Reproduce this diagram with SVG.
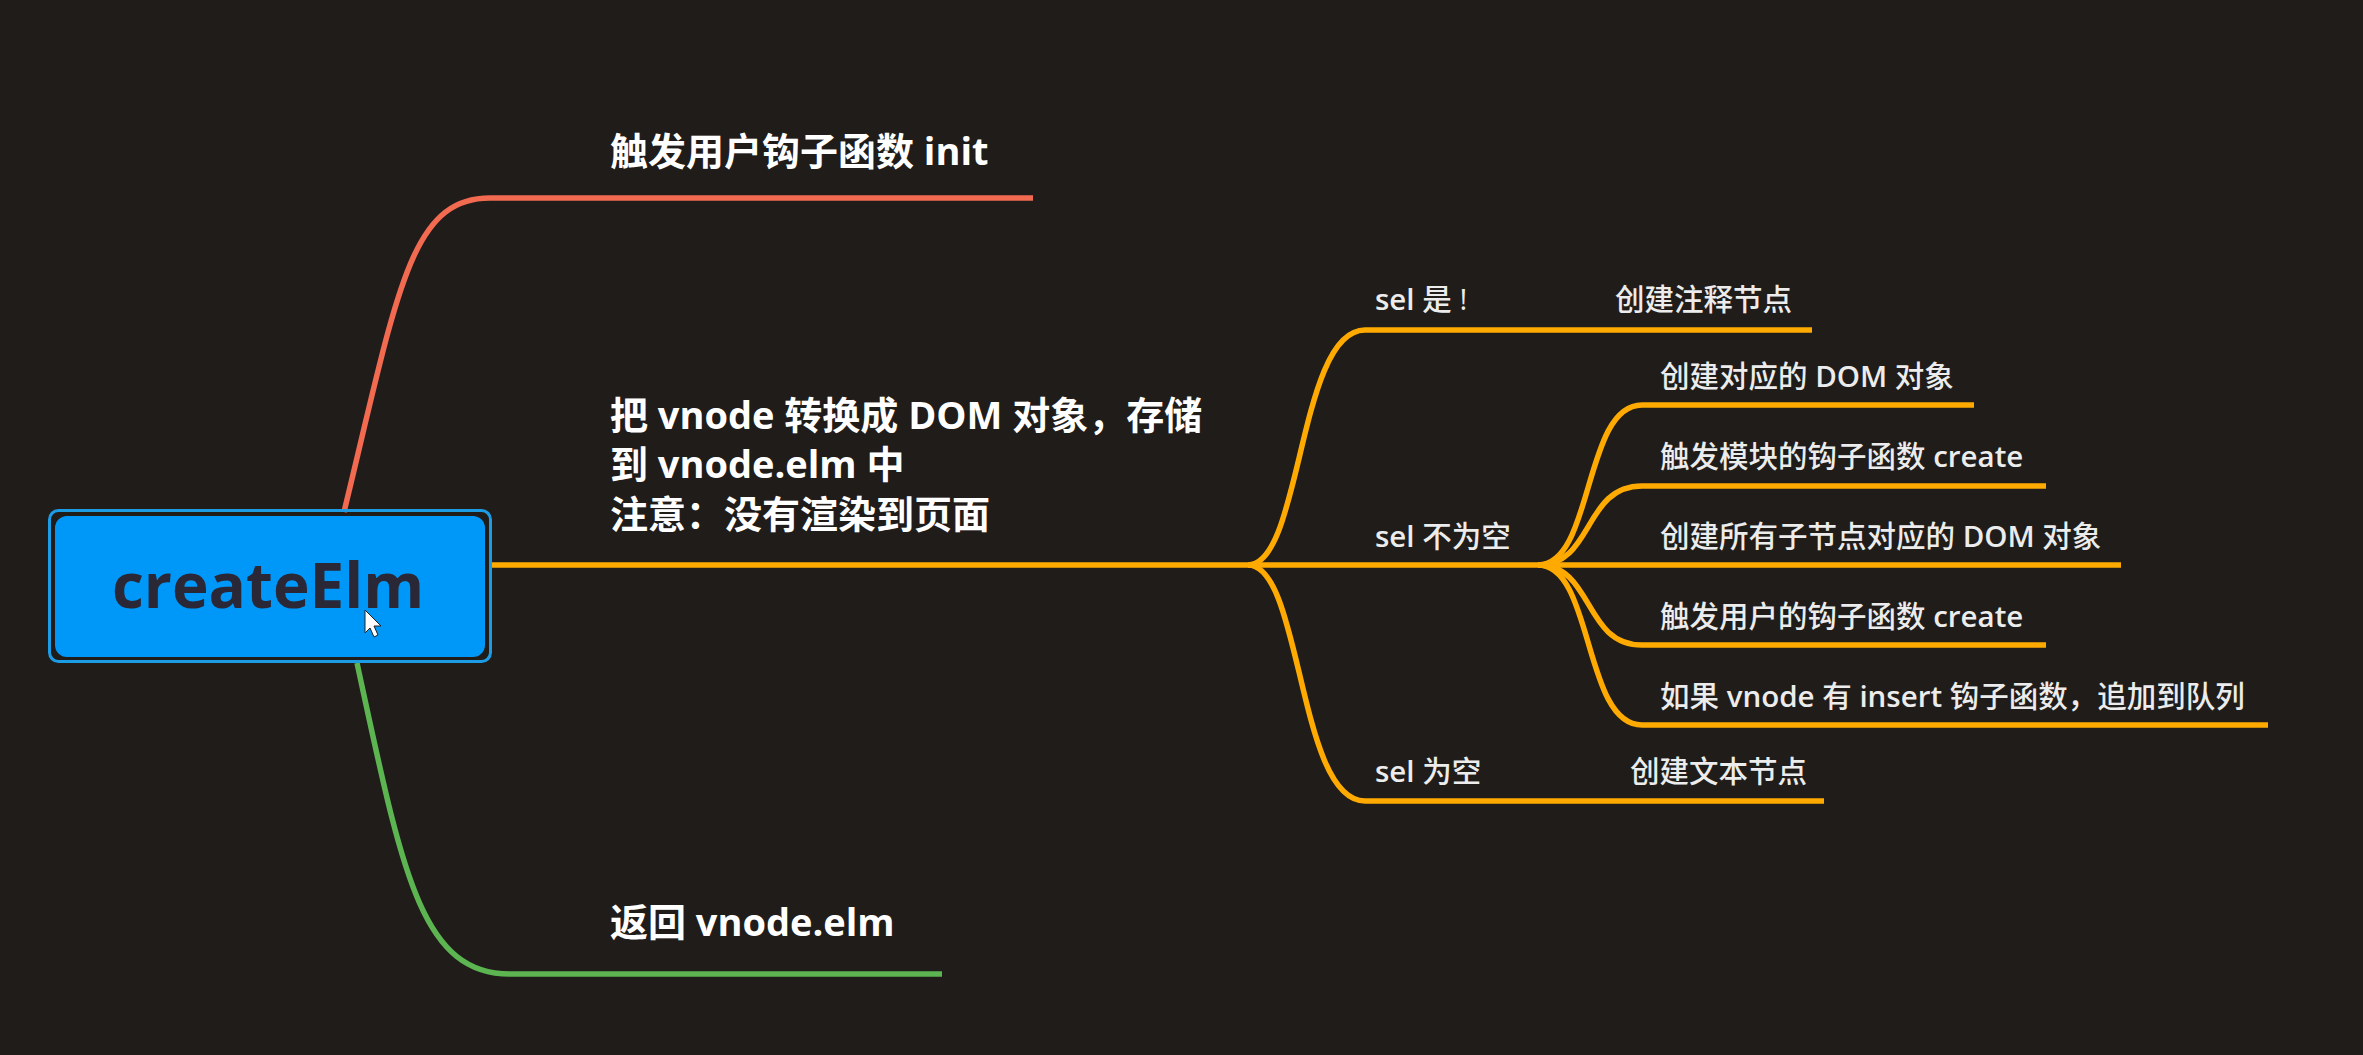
<svg xmlns="http://www.w3.org/2000/svg" width="2363" height="1055" viewBox="0 0 2363 1055">
  <style>
    .main { font-family: "Open Sans", "Noto Sans CJK SC", sans-serif; font-size: 38px; font-weight: 700; fill: #ffffff; }
    .sub { font-family: "Open Sans", "Noto Sans CJK SC", sans-serif; font-size: 29.5px; font-weight: 500; fill: #ececec; }
    .lat { font-weight: 600; }
    .root { font-family: "Open Sans", "Noto Sans CJK SC", sans-serif; font-size: 62px; font-weight: 700; fill: #2a2737; }
    .ln { fill: none; stroke-width: 5.5; stroke-linecap: butt; stroke-linejoin: round; }
    .coral { stroke: #f26a50; }
    .orange { stroke: #ffaa00; }
    .green { stroke: #5cb551; }
  </style>
  <rect x="0" y="0" width="2363" height="1055" fill="#1f1c1a"/>

  <g id="connectors">
    <path class="ln coral" d="M344,512 C398,290 410,198 490,198 H1033"/>
    <path class="ln green" d="M357,663 C402,870 420,974 510,974 H942"/>
    <path class="ln orange" d="M492,565 H2121"/>
    <path class="ln orange" d="M1248,565 C1302,565 1298,330 1365,330 H1812"/>
    <path class="ln orange" d="M1248,565 C1302,565 1298,801 1365,801 H1824"/>
    <path class="ln orange" d="M1538,565 C1594,565 1583,405 1642,405 H1974"/>
    <path class="ln orange" d="M1538,565 C1594,565 1583,486 1642,486 H2046"/>
    <path class="ln orange" d="M1538,565 C1594,565 1583,645 1642,645 H2046"/>
    <path class="ln orange" d="M1538,565 C1594,565 1583,725 1642,725 H2268"/>
  </g>

  <g id="node-root">
    <rect x="49.5" y="510.5" width="441" height="151" rx="9" fill="none" stroke="#1d9ce6" stroke-width="3"/>
    <rect x="55" y="516" width="430" height="141" rx="12" fill="#0098f8"/>
    <text class="root" x="268" y="608" text-anchor="middle">createElm</text>
  </g>

  <g id="node-init">
    <text class="main" x="610" y="165">触发用户钩子函数 init</text>
  </g>

  <g id="node-convert">
    <text class="main" x="610" y="429">把 vnode 转换成 DOM 对象，存储</text>
    <text class="main" x="610" y="478">到 vnode.elm 中</text>
    <text class="main" x="610" y="528">注意：没有渲染到页面</text>
  </g>

  <g id="node-return">
    <text class="main" x="610" y="936">返回 vnode.elm</text>
  </g>

  <g id="node-sel-comment">
    <text class="sub" x="1375" y="310"><tspan class="lat">sel</tspan> 是 !</text>
  </g>
  <g id="node-create-comment">
    <text class="sub" x="1615" y="310">创建注释节点</text>
  </g>

  <g id="node-sel-notempty">
    <text class="sub" x="1375" y="547"><tspan class="lat">sel</tspan> 不为空</text>
  </g>
  <g id="node-create-dom">
    <text class="sub" x="1660" y="387">创建对应的 <tspan class="lat">DOM</tspan> 对象</text>
  </g>
  <g id="node-module-create">
    <text class="sub" x="1660" y="467">触发模块的钩子函数 <tspan class="lat">create</tspan></text>
  </g>
  <g id="node-children-dom">
    <text class="sub" x="1660" y="547">创建所有子节点对应的 <tspan class="lat">DOM</tspan> 对象</text>
  </g>
  <g id="node-user-create">
    <text class="sub" x="1660" y="627">触发用户的钩子函数 <tspan class="lat">create</tspan></text>
  </g>
  <g id="node-insert-queue">
    <text class="sub" x="1660" y="707">如果 <tspan class="lat">vnode</tspan> 有 <tspan class="lat">insert</tspan> 钩子函数，追加到队列</text>
  </g>

  <g id="node-sel-empty">
    <text class="sub" x="1375" y="782"><tspan class="lat">sel</tspan> 为空</text>
  </g>
  <g id="node-create-text">
    <text class="sub" x="1630" y="782">创建文本节点</text>
  </g>

  <polygon points="365,610 365,633 370,628 374,637 378,635 374,626 381,626" fill="#ffffff" stroke="#222" stroke-width="1"/>
</svg>
